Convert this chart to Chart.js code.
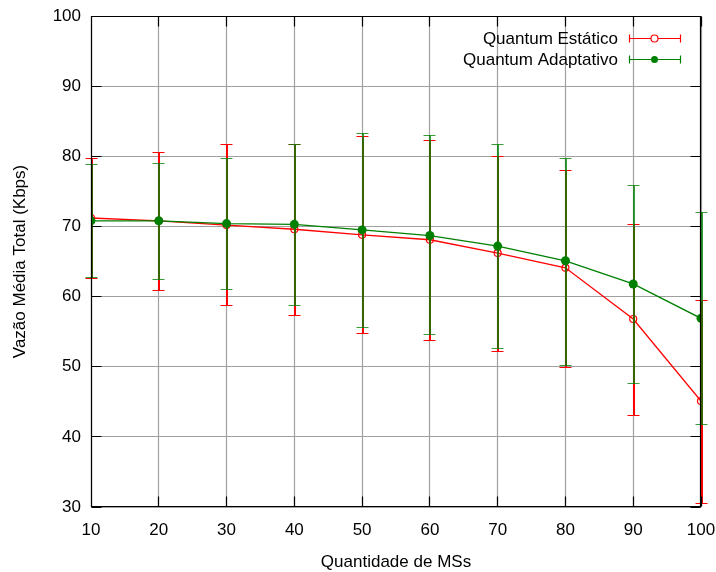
<!DOCTYPE html>
<html>
<head>
<meta charset="utf-8">
<script src="https://cdn.jsdelivr.net/npm/chart.js@4.4.1/dist/chart.umd.min.js"></script>
<style>
  body { margin: 0; background: #fff; }
  #wrap { width: 716px; height: 572px; }
</style>
</head>
<body>
<div id="wrap"><canvas id="myChart" width="716" height="572"></canvas></div>
<script>
// dados
const qtdMSs = [10, 20, 30, 40, 50, 60, 70, 80, 90, 100];
const estaticoMedia = [71.2, 70.8, 70.2, 69.6, 68.8, 68.1, 66.2, 64.1, 56.8, 45.1];
const estaticoMin   = [62.7, 60.9, 58.8, 57.4, 54.8, 53.8, 52.2, 50.0, 43.1, 30.5];
const estaticoMax   = [79.7, 80.6, 81.7, 81.7, 82.9, 82.3, 80.1, 78.1, 70.4, 59.5];
const adaptMedia = [70.8, 70.8, 70.4, 70.3, 69.5, 68.7, 67.2, 65.1, 61.8, 56.9];
const adaptMin   = [62.8, 62.5, 61.1, 58.8, 55.7, 54.6, 52.7, 50.3, 47.7, 41.9];
const adaptMax   = [78.9, 79.1, 79.8, 81.7, 83.3, 83.0, 81.7, 79.8, 75.9, 72.1];
const yTicks = [30, 40, 50, 60, 70, 80, 90, 100];

const fonte = "'Liberation Sans', Arial, sans-serif";
const vermelho = '#ff0000';
const verde = '#008000';

const barrasErro = [
  {cor: vermelho, min: estaticoMin, max: estaticoMax, alpha: 1},
  {cor: verde, min: adaptMin, max: adaptMax, alpha: 0.78}
];

function pontos(ys){
  return qtdMSs.map((x, i) => ({x: x, y: ys[i]}));
}
function alinha(v){
  return Math.round(v - 0.5) + 0.5;
}

// grade, barras de erro, marcas internas e legenda estilo gnuplot
const gnuplotPlugin = {
  id: 'gnuplot',
  beforeDatasetsDraw(chart){
    const ctx = chart.ctx;
    const a = chart.chartArea;
    const xs = chart.scales.x, ys = chart.scales.y;
    ctx.save();
    ctx.strokeStyle = '#a0a0a0';
    ctx.lineWidth = 1.2;
    ctx.beginPath();
    yTicks.forEach(v => {
      const py = alinha(ys.getPixelForValue(v));
      ctx.moveTo(a.left, py); ctx.lineTo(a.right, py);
    });
    qtdMSs.forEach(v => {
      const px = alinha(xs.getPixelForValue(v));
      ctx.moveTo(px, a.top); ctx.lineTo(px, a.bottom);
    });
    ctx.stroke();
    ctx.restore();
  },
  beforeDatasetDraw(chart, args){
    const s = barrasErro[args.index];
    const ctx = chart.ctx;
    const xs = chart.scales.x, ys = chart.scales.y;
    ctx.save();
    ctx.strokeStyle = s.cor;
    ctx.globalAlpha = s.alpha;
    for (let i = 0; i < qtdMSs.length; i++) {
      const px = alinha(xs.getPixelForValue(qtdMSs[i]));
      const y1 = Math.round(ys.getPixelForValue(s.min[i])) + 0.5;
      const y2 = Math.round(ys.getPixelForValue(s.max[i])) + 0.5;
      ctx.lineWidth = 2;
      ctx.beginPath();
      ctx.moveTo(px + 0.5, y1); ctx.lineTo(px + 0.5, y2);
      ctx.stroke();
      ctx.lineWidth = 1.2;
      ctx.beginPath();
      ctx.moveTo(px - 6, y1); ctx.lineTo(px + 6, y1);
      ctx.moveTo(px - 6, y2); ctx.lineTo(px + 6, y2);
      ctx.stroke();
    }
    ctx.restore();
  },
  afterDraw(chart){
    const ctx = chart.ctx;
    const a = chart.chartArea;
    const xs = chart.scales.x, ys = chart.scales.y;
    const l = Math.round(a.left) + 0.5, r = Math.round(a.right) - 0.5;
    const t = Math.round(a.top) + 0.5, b = Math.round(a.bottom) - 0.5;
    ctx.save();
    ctx.strokeStyle = '#000';
    ctx.lineWidth = 1.2;
    ctx.beginPath();
    // moldura
    ctx.rect(l, t, r - l, b - t);
    yTicks.forEach(v => {
      const py = alinha(ys.getPixelForValue(v));
      ctx.moveTo(l, py); ctx.lineTo(l + 10, py);
      ctx.moveTo(r, py); ctx.lineTo(r - 10, py);
    });
    qtdMSs.forEach(v => {
      const px = alinha(xs.getPixelForValue(v));
      ctx.moveTo(px, b); ctx.lineTo(px, b - 10);
      ctx.moveTo(px, t); ctx.lineTo(px, t + 10);
    });
    ctx.stroke();

    // legenda
    const itens = [
      {txt: 'Quantum Estático', cor: vermelho, cheio: false, y: 38.5},
      {txt: 'Quantum Adaptativo', cor: verde, cheio: true, y: 59.5}
    ];
    ctx.font = '17px ' + fonte;
    ctx.textAlign = 'right';
    ctx.textBaseline = 'middle';
    itens.forEach(it => {
      ctx.fillStyle = '#000';
      ctx.fillText(it.txt, 618, it.y + 1);
      ctx.strokeStyle = it.cor;
      ctx.lineWidth = 1.2;
      ctx.beginPath();
      ctx.moveTo(629, it.y); ctx.lineTo(680, it.y);
      ctx.moveTo(629.5, it.y - 4); ctx.lineTo(629.5, it.y + 4);
      ctx.moveTo(680.5, it.y - 4); ctx.lineTo(680.5, it.y + 4);
      ctx.stroke();
      ctx.beginPath();
      ctx.arc(654.5, it.y, 3.5, 0, Math.PI * 2);
      if (it.cheio) { ctx.fillStyle = it.cor; ctx.fill(); }
      else { ctx.fillStyle = '#fff'; ctx.fill(); ctx.stroke(); }
    });
    ctx.restore();
  }
};

const ctx = document.getElementById('myChart');
const myChart = new Chart(ctx, {
  type: 'line',
  data: {
    datasets: [{
      label: 'Quantum Estático',
      data: pontos(estaticoMedia),
      borderColor: vermelho,
      backgroundColor: '#fff',
      borderWidth: 1.3,
      pointRadius: 3.5,
      pointBorderWidth: 1.2,
      pointBorderColor: vermelho,
      pointBackgroundColor: 'rgba(255,255,255,0)',
      tension: 0,
      order: 2
    }, {
      label: 'Quantum Adaptativo',
      data: pontos(adaptMedia),
      borderColor: verde,
      backgroundColor: verde,
      borderWidth: 1.3,
      pointRadius: 4.5,
      pointBorderWidth: 0,
      pointBackgroundColor: verde,
      tension: 0,
      order: 1
    }]
  },
  options: {
    responsive: false,
    animation: false,
    layout: { padding: { top: 16, right: 15, left: 0, bottom: 0 } },
    plugins: { legend: { display: false }, tooltip: { enabled: false } },
    scales: {
      x: {
        type: 'linear',
        min: 10, max: 100,
        afterFit(scale){ scale.height = 65; },
        ticks: { stepSize: 10, padding: 0, color: '#000', font: { family: fonte, size: 17 } },
        grid: { color: 'rgba(0,0,0,0)', drawTicks: true, tickLength: 13, tickColor: 'rgba(0,0,0,0)' },
        border: { display: false },
        title: { display: true, text: 'Quantidade de MSs', color: '#000',
                 font: { family: fonte, size: 17 }, padding: { top: 0, bottom: -1 } }
      },
      y: {
        min: 30, max: 100,
        afterFit(scale){ scale.width = 91; },
        ticks: { stepSize: 10, padding: 0, color: '#000', font: { family: fonte, size: 17 } },
        grid: { color: 'rgba(0,0,0,0)', drawTicks: true, tickLength: 10, tickColor: 'rgba(0,0,0,0)' },
        border: { display: false },
        title: { display: true, text: 'Vazão Média Total (Kbps)', color: '#000',
                 font: { family: fonte, size: 17 }, padding: { top: 10, bottom: 0 } }
      }
    }
  },
  plugins: [gnuplotPlugin]
});
</script>
</body>
</html>
